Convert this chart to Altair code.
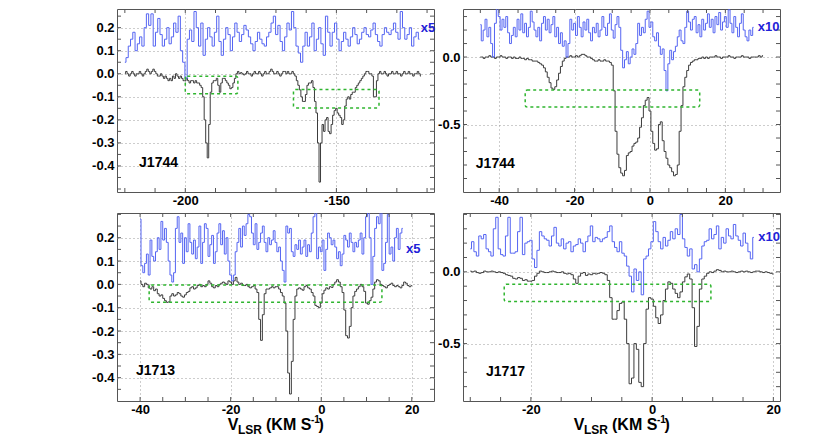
import altair as alt
import numpy as np
import pandas as pd

FONT = "Liberation Sans"
BLACK = "#3c3c3c"
BLUE = "#5565f2"
LABEL_BLUE = "#1f22d8"
GREEN = "#2fb52f"
FRAME = "#555555"
GRID = "#9a9a9a"

# ---------------- Panel A : J1744 (top left) ----------------
A_BLACK_START, A_BLACK_STEP = -220.0, 0.5
A_BLACK = [
    0.00, 0.01, 0.00, -0.01, 0.00, 0.01, 0.00, -0.01, 0.00, 0.00,
    0.01, 0.00, -0.01, 0.00, 0.01, 0.02, 0.01, 0.00, 0.01, 0.02,
    0.01, 0.00, -0.01, -0.01, 0.00, -0.01, -0.02, -0.01, -0.02, -0.03,
    -0.02, -0.03, -0.01, -0.02, 0.00, -0.01, -0.02, -0.01, -0.02, -0.03,
    -0.03, -0.02, -0.03, -0.04, -0.03, -0.03, -0.04, -0.03, -0.04, -0.04,
    -0.05, -0.06, -0.10, -0.20, -0.30, -0.365, -0.22, -0.08, -0.04, -0.03,
    -0.03, -0.02, -0.05, -0.08, -0.04, -0.02, -0.02, -0.03, -0.04, -0.05,
    -0.065, -0.06, -0.04, -0.02, 0.00, 0.01, 0.00, 0.005, 0.00, -0.005,
    0.00, 0.01, 0.00, 0.00, -0.01, 0.00, 0.01, 0.00, 0.00, 0.01,
    0.00, -0.01, 0.00, 0.01, 0.00, 0.00, 0.01, 0.02, 0.01, 0.00,
    0.00, 0.01, 0.00, -0.01, 0.00, 0.01, 0.01, 0.00, 0.01, 0.00,
    0.00, 0.01, 0.00, -0.01, -0.03, -0.05, -0.07, -0.10, -0.12, -0.12,
    -0.09, -0.05, -0.04, -0.04, -0.03, -0.06, -0.12, -0.17, -0.30, -0.47,
    -0.30, -0.22, -0.25, -0.20, -0.19, -0.25, -0.26, -0.22, -0.18, -0.16,
    -0.15, -0.17, -0.18, -0.19, -0.22, -0.20, -0.14, -0.11, -0.10, -0.11,
    -0.09, -0.08, -0.08, -0.06, -0.05, -0.04, -0.03, -0.02, -0.01, 0.00,
    0.01, 0.01, 0.00, 0.00, -0.01, -0.10, -0.10, -0.03, 0.00, 0.01,
    0.00, 0.00, 0.01, 0.00, -0.01, 0.00, 0.00, 0.01, 0.00, 0.00,
    0.01, 0.00, 0.00, -0.01, 0.00, 0.01, 0.00, 0.00, 0.01, 0.00,
    0.00, -0.01, 0.00, 0.00, 0.01, 0.00, -0.01,
]
A_BLUE_START, A_BLUE_STEP = -220.0, 0.75
A_BLUE = [
    0.05, 0.07, 0.12, 0.15, 0.18, 0.10, 0.13, 0.16, 0.12, 0.20,
    0.26, 0.21, 0.26, 0.12, 0.18, 0.24, 0.17, 0.12, 0.15, 0.20,
    0.13, 0.16, 0.22, 0.18, 0.25, 0.10, 0.05, -0.02, 0.15, 0.19,
    0.14, 0.27, 0.20, 0.12, 0.22, 0.08, 0.15, 0.20, 0.16, 0.12,
    0.18, 0.25, 0.14, 0.08, 0.15, 0.20, 0.17, 0.10, 0.16, 0.22,
    0.18, 0.14, 0.17, 0.21, 0.19, 0.16, 0.13, 0.10, 0.14, 0.18,
    0.15, 0.13, 0.12, 0.16, 0.18, 0.22, 0.25, 0.17, 0.21, 0.14,
    0.10, 0.16, 0.22, 0.19, 0.27, 0.20, 0.12, 0.09, 0.05, 0.12,
    0.18, 0.12, 0.16, 0.22, 0.10, 0.15, 0.20, 0.13, 0.08, 0.25,
    0.18, 0.12, 0.18, 0.22, 0.15, 0.10, 0.14, 0.18, 0.15, 0.12,
    0.16, 0.20, 0.17, 0.13, 0.15, 0.18, 0.20, 0.17, 0.16, 0.19,
    0.22, 0.17, 0.14, 0.12, 0.17, 0.20, 0.18, 0.17, 0.19, 0.22,
    0.18, 0.15, 0.27, 0.20, 0.15, 0.17, 0.20, 0.12, 0.16, 0.18,
    0.15,
]
A_XLABELS = [-200, -150]
A_YLABELS = [0.2, 0.1, 0.0, -0.1, -0.2, -0.3, -0.4]
A_XTICKS = [-220, -210, -200, -190, -180, -170, -160, -150, -140, -130, -120]
A_YTICKS = [0.25, 0.2, 0.15, 0.1, 0.05, 0.0, -0.05, -0.1, -0.15, -0.2, -0.25,
            -0.3, -0.35, -0.4, -0.45, -0.5]
A_BOX_X1 = [-200.0, -164.2]
A_BOX_X2 = [-182.6, -135.9]
A_BOX_Y1 = [-0.011, -0.068]
A_BOX_Y2 = [-0.087, -0.148]

# ---------------- Panel B : J1744 (top right) ----------------
B_BLACK_START, B_BLACK_STEP = -45.0, 0.5
B_BLACK = [
    0.00, 0.00, -0.01, 0.00, 0.00, 0.01, 0.00, 0.00, -0.01, 0.00,
    0.00, 0.01, 0.00, 0.00, -0.01, 0.00, 0.00, -0.01, 0.00, -0.01,
    -0.01, 0.00, -0.01, -0.01, -0.02, -0.01, -0.02, -0.02, -0.03, -0.03,
    -0.03, -0.04, -0.05, -0.06, -0.08, -0.11, -0.15, -0.19, -0.23, -0.24,
    -0.22, -0.17, -0.12, -0.07, -0.03, -0.01, 0.00, 0.00, 0.01, 0.00,
    0.00, 0.01, 0.00, 0.01, 0.02, 0.02, 0.01, 0.00, 0.00, -0.01,
    -0.02, -0.03, -0.03, -0.02, -0.03, -0.03, -0.02, -0.03, -0.03, -0.04,
    -0.06, -0.25, -0.55, -0.72, -0.82, -0.86, -0.88, -0.84, -0.73, -0.71,
    -0.70, -0.66, -0.64, -0.63, -0.60, -0.52, -0.45, -0.36, -0.32, -0.30,
    -0.40, -0.55, -0.64, -0.69, -0.68, -0.50, -0.48, -0.62, -0.70, -0.75,
    -0.80, -0.82, -0.85, -0.88, -0.87, -0.80, -0.55, -0.36, -0.22, -0.15,
    -0.10, -0.06, -0.04, -0.03, -0.02, -0.02, -0.01, -0.01, 0.00, -0.01,
    0.00, -0.01, 0.00, 0.00, 0.00, 0.01, 0.00, 0.00, -0.01, 0.00,
    0.00, 0.00, 0.01, 0.00, 0.00, -0.01, 0.00, 0.00, 0.00, 0.01,
    0.00, 0.00, 0.00, -0.01, 0.00, 0.00, 0.00, 0.00, 0.01, 0.00, 0.01,
]
B_BLUE_START, B_BLUE_STEP = -45.0, 0.5
B_BLUE = [
    0.24, 0.12, 0.20, 0.28, 0.15, 0.22, 0.10, 0.00, 0.25, 0.39,
    0.30, 0.20, 0.28, 0.22, 0.30, 0.18, 0.10, 0.16, 0.22, 0.15,
    0.28, 0.20, 0.32, 0.18, 0.25, 0.15, 0.22, 0.34, 0.26, 0.20,
    0.15, 0.22, 0.12, 0.25, 0.30, 0.20, 0.28, 0.18, 0.24, 0.30,
    0.15, 0.22, 0.10, 0.18, 0.08, 0.12, 0.00, 0.10, 0.28, 0.20,
    0.25, 0.16, 0.30, 0.22, 0.15, 0.26, 0.20, 0.28, 0.18, 0.12,
    0.22, 0.18, 0.25, 0.15, 0.20, 0.30, 0.22, 0.16, 0.25, 0.32,
    0.20, 0.14, 0.24, 0.30, 0.22, 0.05, -0.08, -0.02, 0.04, -0.05,
    0.00, 0.06, 0.02, 0.10, 0.25, 0.16, 0.22, 0.18, 0.28, 0.34,
    0.22, 0.26, 0.15, 0.12, 0.18, 0.08, 0.02, 0.06, -0.10, -0.25,
    -0.05, 0.05, -0.02, 0.04, 0.08, 0.15, 0.20, 0.12, 0.10, 0.22,
    0.34, 0.26, 0.20, 0.28, 0.30, 0.18, 0.24, 0.15, 0.28, 0.20,
    0.25, 0.32, 0.22, 0.28, 0.18, 0.30, 0.24, 0.33, 0.20, 0.26,
    0.30, 0.22, 0.35, 0.25, 0.18, 0.30, 0.22, 0.15, 0.25, 0.32,
    0.20, 0.15, 0.12, 0.20, 0.16, 0.22,
]
B_XLABELS = [-40, -20, 0, 20]
B_YLABELS = [0.0, -0.5]
B_XTICKS = [-45, -40, -35, -30, -25, -20, -15, -10, -5, 0, 5, 10, 15, 20, 25, 30]
B_YTICKS = [0.3, 0.2, 0.1, 0.0, -0.1, -0.2, -0.3, -0.4, -0.5, -0.6, -0.7, -0.8, -0.9]
B_BOX_X1 = [-33.1]
B_BOX_X2 = [13.2]
B_BOX_Y1 = [-0.245]
B_BOX_Y2 = [-0.371]

# ---------------- Panel C : J1713 (bottom left) ----------------
C_BLACK_START, C_BLACK_STEP = -40.0, 0.4
C_BLACK = [
    0.015, 0.00, -0.01, 0.005, 0.00, -0.015, -0.02, -0.01, -0.027, -0.02,
    -0.04, -0.05, -0.045, -0.06, -0.07, -0.077, -0.075, -0.05, -0.04, -0.05,
    -0.045, -0.035, -0.04, -0.05, -0.055, -0.045, -0.035, -0.03, -0.015, -0.01,
    -0.02, -0.015, -0.005, 0.00, -0.01, -0.005, -0.01, 0.00, 0.015, 0.005,
    -0.01, -0.015, -0.005, -0.01, 0.00, 0.005, 0.01, 0.005, 0.00, 0.015,
    0.01, 0.00, 0.015, 0.03, 0.01, 0.00, 0.005, -0.005, -0.005, 0.00,
    -0.01, -0.015, -0.01, -0.005, -0.02, -0.035, -0.15, -0.24, -0.13, -0.04,
    -0.02, -0.02, -0.015, -0.01, -0.015, -0.01, -0.01, -0.02, -0.035, -0.05,
    -0.08, -0.20, -0.38, -0.47, -0.33, -0.15, -0.05, -0.02, -0.015, -0.02,
    -0.025, -0.01, -0.005, -0.015, -0.02, -0.035, -0.05, -0.09, -0.095, -0.10,
    -0.08, -0.04, -0.025, -0.015, -0.02, -0.01, -0.013, 0.00, 0.01, 0.02,
    0.01, -0.01, -0.035, -0.11, -0.22, -0.23, -0.18, -0.10, -0.05, -0.03,
    -0.02, -0.01, 0.00, -0.01, -0.03, -0.08, -0.085, -0.07, -0.055, -0.02,
    0.01, 0.02, 0.015, 0.00, -0.005, -0.01, -0.015, -0.005, 0.00, 0.005,
    -0.005, -0.01, -0.005, -0.01, -0.015, -0.005, 0.01, 0.005, -0.005, -0.01,
    -0.005,
]
C_BLUE_START, C_BLUE_STEP = -40.0, 0.4
C_BLUE = [
    0.28, 0.08, 0.05, 0.09, 0.13, 0.04, 0.19, 0.12, 0.10, 0.14,
    0.20, 0.15, 0.27, 0.19, 0.24, 0.18, 0.10, 0.04, 0.01, 0.05,
    0.24, 0.29, 0.18, 0.22, 0.09, 0.20, 0.14, 0.26, 0.18, 0.13,
    0.19, 0.11, 0.16, 0.25, 0.09, 0.18, 0.26, 0.24, 0.12, 0.17,
    0.21, 0.09, 0.14, 0.22, 0.26, 0.17, 0.23, 0.13, 0.20, 0.10,
    0.04, 0.015, 0.04, 0.14, 0.18, 0.24, 0.16, 0.25, 0.21, 0.26,
    0.30, 0.29, 0.22, 0.17, 0.26, 0.15, 0.18, 0.22, 0.25, 0.18,
    0.14, 0.20, 0.17, 0.19, 0.23, 0.18, 0.14, 0.16, 0.10, 0.06,
    0.01, 0.25, 0.22, 0.24, 0.14, 0.12, 0.17, 0.15, 0.19, 0.13,
    0.16, 0.19, 0.12, 0.17, 0.14, 0.22, 0.29, 0.32, 0.11, 0.16,
    0.14, 0.19, 0.06, 0.15, 0.22, 0.20, 0.17, 0.19, 0.16, 0.11,
    0.14, 0.08, 0.13, 0.21, 0.19, 0.16, 0.22, 0.18, 0.14, 0.18,
    0.16, 0.19, 0.22, 0.13, 0.20, 0.29, 0.32, 0.20, 0.00, 0.12,
    0.24, 0.29, 0.26, 0.32, 0.06, 0.09, 0.18, 0.30, 0.13, 0.16,
    0.10, 0.20, 0.24, 0.15, 0.22, 0.24,
]
C_XLABELS = [-40, -20, 0, 20]
C_YLABELS = [0.2, 0.1, 0.0, -0.1, -0.2, -0.3, -0.4]
C_XTICKS = [-40, -35, -30, -25, -20, -15, -10, -5, 0, 5, 10, 15, 20]
C_YTICKS = [0.3, 0.25, 0.2, 0.15, 0.1, 0.05, 0.0, -0.05, -0.1, -0.15, -0.2,
            -0.25, -0.3, -0.35, -0.4, -0.45]
C_BOX_X1 = [-38.0]
C_BOX_X2 = [13.4]
C_BOX_Y1 = [-0.003]
C_BOX_Y2 = [-0.077]

# ---------------- Panel D : J1717 (bottom right) ----------------
D_BLACK_START, D_BLACK_STEP = -30.0, 0.4
D_BLACK = [
    0.005, 0.00, 0.005, -0.005, -0.01, -0.005, 0.005, 0.00, 0.00, 0.005,
    0.00, -0.005, 0.00, -0.005, -0.01, -0.02, -0.025, -0.03, -0.045, -0.05,
    -0.04, -0.045, -0.06, -0.055, -0.065, -0.065, -0.06, -0.03, -0.01, 0.005,
    0.00, -0.005, -0.005, 0.00, 0.005, 0.00, -0.005, -0.005, 0.00, -0.01,
    -0.015, -0.01, -0.02, -0.05, -0.08, -0.03, -0.01, -0.005, -0.025, -0.015,
    -0.02, -0.01, -0.015, -0.01, -0.005, -0.01, -0.02, -0.06, -0.18, -0.33,
    -0.33, -0.27, -0.22, -0.21, -0.33, -0.50, -0.78, -0.74, -0.50, -0.54,
    -0.77, -0.80, -0.50, -0.26, -0.18, -0.19, -0.24, -0.32, -0.36, -0.30,
    -0.20, -0.12, -0.07, -0.08, -0.12, -0.15, -0.18, -0.14, -0.07, -0.035,
    -0.015, -0.05, -0.25, -0.52, -0.38, -0.12, -0.05, -0.03, -0.01, 0.00,
    -0.005, 0.005, 0.015, 0.01, 0.00, 0.005, 0.00, 0.00, 0.005, 0.00,
    -0.005, 0.00, 0.005, 0.00, 0.005, 0.00, -0.005, 0.00, 0.005, 0.005,
    0.00, -0.005, 0.00, -0.005, -0.01, -0.015,
]
D_BLUE_START, D_BLUE_STEP = -30.0, 0.4
D_BLUE = [
    0.16, 0.21, 0.14, 0.11, 0.25, 0.23, 0.26, 0.16, 0.14, 0.11,
    0.30, 0.38, 0.16, 0.12, 0.11, 0.25, 0.38, 0.13, 0.13, 0.14,
    0.28, 0.38, 0.12, 0.20, 0.21, 0.22, 0.09, 0.03, 0.15, 0.28,
    0.25, 0.23, 0.22, 0.18, 0.25, 0.31, 0.20, 0.18, 0.23, 0.16,
    0.20, 0.21, 0.14, 0.18, 0.19, 0.23, 0.20, 0.14, 0.21, 0.25,
    0.32, 0.21, 0.24, 0.23, 0.21, 0.23, 0.24, 0.28, 0.32, 0.21,
    0.17, 0.14, 0.21, 0.13, 0.11, 0.04, -0.03, -0.14, 0.02, -0.06,
    0.00, -0.16, 0.09, 0.11, 0.16, 0.21, 0.35, 0.28, 0.21, 0.16,
    0.24, 0.18, 0.22, 0.28, 0.23, 0.30, 0.26, 0.40, 0.23, 0.17,
    0.11, 0.16, 0.02, 0.05, 0.00, 0.09, 0.18, 0.21, 0.22, 0.30,
    0.23, 0.26, 0.32, 0.16, 0.24, 0.20, 0.30, 0.25, 0.23, 0.33,
    0.25, 0.22, 0.18, 0.27, 0.20, 0.14, 0.09, 0.24,
]
D_XLABELS = [-20, 0, 20]
D_YLABELS = [0.0, -0.5]
D_XTICKS = [-30, -25, -20, -15, -10, -5, 0, 5, 10, 15, 20]
D_YTICKS = [0.4, 0.3, 0.2, 0.1, 0.0, -0.1, -0.2, -0.3, -0.4, -0.5, -0.6, -0.7, -0.8]
D_BOX_X1 = [-24.4]
D_BOX_X2 = [9.7]
D_BOX_Y1 = [-0.086]
D_BOX_Y2 = [-0.207]

PANELS = [
    dict(black=(A_BLACK_START, A_BLACK_STEP, A_BLACK), blue=(A_BLUE_START, A_BLUE_STEP, A_BLUE),
         xdom=[-222.6, -117.7], ydom=[-0.513, 0.281], xlabels=A_XLABELS, ylabels=A_YLABELS,
         xticks=A_XTICKS, yticks=A_YTICKS, boxes=(A_BOX_X1, A_BOX_X2, A_BOX_Y1, A_BOX_Y2),
         name="J1744", name_pos=(-215.3, -0.387), factor="x5", factor_pos=(-122.05, 0.2),
         w=317, h=183, title=False),
    dict(black=(B_BLACK_START, B_BLACK_STEP, B_BLACK), blue=(B_BLUE_START, B_BLUE_STEP, B_BLUE),
         xdom=[-49.6, 34.5], ydom=[-1.0, 0.356], xlabels=B_XLABELS, ylabels=B_YLABELS,
         xticks=B_XTICKS, yticks=B_YTICKS, boxes=(B_BOX_X1, B_BOX_X2, B_BOX_Y1, B_BOX_Y2),
         name="J1744", name_pos=(-46.2, -0.792), factor="x10", factor_pos=(28.6, 0.223),
         w=317, h=183, title=False),
    dict(black=(C_BLACK_START, C_BLACK_STEP, C_BLACK), blue=(C_BLUE_START, C_BLUE_STEP, C_BLUE),
         xdom=[-45.1, 24.9], ydom=[-0.5, 0.306], xlabels=C_XLABELS, ylabels=C_YLABELS,
         xticks=C_XTICKS, yticks=C_YTICKS, boxes=(C_BOX_X1, C_BOX_X2, C_BOX_Y1, C_BOX_Y2),
         name="J1713", name_pos=(-40.9, -0.372), factor="x5", factor_pos=(18.7, 0.153),
         w=317, h=188, title=True),
    dict(black=(D_BLACK_START, D_BLACK_STEP, D_BLACK), blue=(D_BLUE_START, D_BLUE_STEP, D_BLUE),
         xdom=[-31.2, 21.1], ydom=[-0.9, 0.41], xlabels=D_XLABELS, ylabels=D_YLABELS,
         xticks=D_XTICKS, yticks=D_YTICKS, boxes=(D_BOX_X1, D_BOX_X2, D_BOX_Y1, D_BOX_Y2),
         name="J1717", name_pos=(-27.4, -0.696), factor="x10", factor_pos=(17.5, 0.246),
         w=317, h=188, title=True),
]


def spectrum(start, step, vals):
    v = np.round(start + step * np.arange(len(vals)), 4)
    return pd.DataFrame({"v": v, "val": vals})


def neg_label(fmt):
    return ("datum.value < 0 ? '-' + format(-datum.value, '%s') : format(datum.value, '%s')"
            % (fmt, fmt))


def make_panel(p):
    W, H = p["w"], p["h"]
    xs = alt.Scale(domain=p["xdom"], nice=False, zero=False)
    ys = alt.Scale(domain=p["ydom"], nice=False, zero=False)
    common = dict(grid=True, gridColor=GRID, gridDash=[1, 3], gridWidth=1, ticks=False,
                  domain=False, labelFont=FONT, labelFontSize=13, labelFontWeight="bold",
                  labelColor="#000000", title=None, labelFlush=False, labelOverlap=False)
    xaxis = alt.Axis(values=p["xlabels"], labelPadding=2, labelExpr=neg_label("d"), **common)
    yaxis = alt.Axis(values=p["ylabels"], labelPadding=3, labelExpr=neg_label(".1f"), **common)

    def X(field="v"):
        return alt.X(field + ":Q", scale=xs, axis=xaxis)

    def Y(field="val"):
        return alt.Y(field + ":Q", scale=ys, axis=yaxis)

    black = alt.Chart(spectrum(*p["black"])).mark_line(
        interpolate="step", color=BLACK, strokeWidth=1, clip=True
    ).encode(x=X(), y=Y())

    blue = alt.Chart(spectrum(*p["blue"])).mark_line(
        interpolate="step", color=BLUE, strokeWidth=1, clip=True
    ).encode(x=X(), y=Y())

    bx1, bx2, by1, by2 = p["boxes"]
    boxes = alt.Chart(pd.DataFrame({"v": bx1, "v2": bx2, "val": by1, "val2": by2})).mark_rect(
        fillOpacity=0, stroke=GREEN, strokeWidth=1.5, strokeDash=[3, 3], cornerRadius=2
    ).encode(x=X(), x2="v2:Q", y=Y(), y2="val2:Q")

    xt = pd.DataFrame({"v": p["xticks"]})
    yt = pd.DataFrame({"val": p["yticks"]})
    tick_b = alt.Chart(xt).mark_rule(color=FRAME, strokeWidth=1).encode(
        x=X(), y=alt.value(H), y2=alt.value(H - 4))
    tick_t = alt.Chart(xt).mark_rule(color=FRAME, strokeWidth=1).encode(
        x=X(), y=alt.value(0), y2=alt.value(4))
    tick_l = alt.Chart(yt).mark_rule(color=FRAME, strokeWidth=1).encode(
        y=Y(), x=alt.value(0), x2=alt.value(4))
    tick_r = alt.Chart(yt).mark_rule(color=FRAME, strokeWidth=1).encode(
        y=Y(), x=alt.value(W), x2=alt.value(W - 4))

    nx, ny = p["name_pos"]
    name = alt.Chart(pd.DataFrame({"v": [nx], "val": [ny], "t": [p["name"]]})).mark_text(
        align="left", baseline="middle", font=FONT, fontSize=14, fontWeight="bold", color="#000000"
    ).encode(x=X(), y=Y(), text="t:N")

    fx, fy = p["factor_pos"]
    factor = alt.Chart(pd.DataFrame({"v": [fx], "val": [fy], "t": [p["factor"]]})).mark_text(
        align="left", baseline="middle", font=FONT, fontSize=13, fontWeight="bold", color=LABEL_BLUE
    ).encode(x=X(), y=Y(), text="t:N")

    layers = [black, blue, boxes, tick_b, tick_t, tick_l, tick_r, name, factor]

    if p["title"]:
        one = pd.DataFrame({"a": [0]})
        parts = [("V", 110.7, H + 24, 16), ("LSR", 121.0, H + 29, 12),
                 ("(KM S", 149.0, H + 24, 16), ("-1", 194.0, H + 19, 10),
                 (")", 201.5, H + 24, 16)]
        for txt, px, py, fs in parts:
            layers.append(
                alt.Chart(one).mark_text(align="left", baseline="middle", font=FONT,
                                         fontSize=fs, fontWeight="bold", color="#000000")
                .encode(x=alt.value(px), y=alt.value(py), text=alt.value(txt))
            )

    return alt.layer(*layers).properties(width=W, height=H)


panels = [make_panel(p) for p in PANELS]
chart = alt.concat(*panels, columns=2, spacing={"row": 21, "column": 29}, bounds="flush").properties(
    padding={"left": 83, "top": 0, "right": 0, "bottom": 0}
).configure_view(stroke=FRAME, strokeWidth=1)

chart.save("out.html", embed_options={"renderer": "svg", "actions": False})
